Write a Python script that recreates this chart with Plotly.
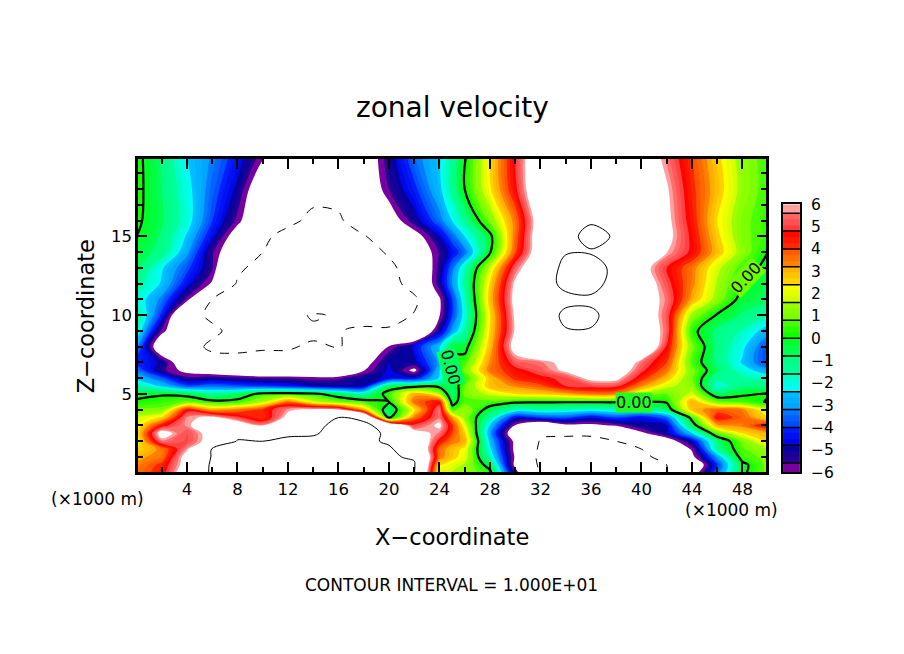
import numpy as np
import plotly.graph_objects as go

FONT = "DejaVu Sans"

# grid of the model output, x and z in units of 1000 m
x_km = [0, 2, 4, 6, 8, 10, 12, 14, 16, 18, 20, 22, 24, 25, 26, 28, 30, 32, 34, 36, 38, 40, 42, 44, 46, 48, 50]
z_km = [0, 0.5, 1, 1.5, 2, 2.5, 3, 3.5, 4, 4.5, 5, 5.5, 6, 6.5, 7, 8, 9, 10, 11, 12, 13, 14, 15, 16, 18, 20]

# zonal velocity, one list per height (x = 25 kept apart in u_x25)
u_z20 = [0.3, -0.9, -2.4, -3.3, -4.4, -6, -7, -8, -8, -7.3, -5.2, -3.5, -2.5, -0.1, 2.4, 4.8, 7.5, 9, 9, 8, 7, 5.5, 4, 2.6, 1.2, 0.5]
u_z18 = [0.3, -0.8, -2.1, -3.6, -5, -7.5, -8.5, -9, -9, -7.5, -5.6, -4.2, -2.6, 0, 2.3, 4.6, 7.5, 9, 9, 8.5, 7, 6, 4.2, 2.8, 1.3, 0.5]
u_z16 = [0.2, -0.7, -2, -4, -5.8, -8, -9.3, -10.7, -10.4, -8.5, -7, -5.2, -3.5, -1.3, 1, 3.5, 6.8, 8.5, 9.5, 8.5, 7, 6.2, 4.4, 2.4, 1, 0.4]
u_z15 = [0, -0.9, -2.5, -4.6, -7, -9.4, -11, -12, -12, -10.2, -8.5, -6.8, -4.8, -2.4, -0.3, 3.6, 7, 8.5, 11.5, 9.5, 7, 6.3, 4.6, 2.6, 1, 0.4]
u_z14 = [-0.4, -1.1, -3, -5.5, -7.5, -10, -12, -13, -13, -11.5, -9.6, -7.5, -5.5, -3.5, -0.1, 3.9, 7, 9.8, 9.6, 8.5, 7.5, 5.9, 4.6, 2.8, 1.2, 0]
u_z13 = [-0.7, -2.3, -3.8, -5.5, -9.5, -11, -12.5, -14, -14, -12.5, -10.8, -8.3, -5.3, -1.7, 1.8, 5.3, 7.5, 11, 12.5, 8.5, 6.5, 4.8, 3.5, 1.8, 0.5, -0.3]
u_z12 = [-1.3, -2.5, -4.5, -6.3, -10.3, -12, -13, -14, -14, -13, -11.5, -8.5, -5.2, -1.4, 2.5, 6.1, 8.5, 10.8, 11.5, 8.5, 7, 5.1, 3.4, 1.5, 0, -0.6]
u_z11 = [-1.8, -3.4, -5.8, -10, -11.5, -12, -12, -13, -13, -13, -12, -10.7, -6.3, -1.8, 2.8, 6.3, 8, 9.2, 9.3, 8.5, 6.8, 5.5, 3, 1.2, -0.4, -0.7]
u_z10 = [-1.2, -4.2, -9, -10.5, -11, -11, -11, -9.7, -10.3, -11, -11.5, -9.8, -6.2, -2, 2.4, 6.1, 8, 10.7, 10.7, 8.5, 7.2, 5.2, 1.3, -0.1, -0.9, -1.6]
u_z9 = [-1.7, -5.8, -8, -9.5, -10.8, -11, -10.7, -10.5, -10.1, -9.6, -9.5, -9, -5, -1.5, 2.5, 6, 8.3, 9.8, 9.8, 8.5, 7.5, 5.3, 0.3, -1, -1.7, -2.8]
u_z8 = [-3, -7.7, -9, -10.5, -11, -10.3, -10.2, -9.7, -10.1, -9.3, -6, -4.6, -2.5, -0.4, 2.8, 6.5, 8, 8.5, 8.5, 8.5, 8, 4.7, 1, -1, -2.2, -4]
u_z7 = [-4, -5, -7.5, -9, -8.5, -9, -9.3, -9.3, -9, -6.8, -4.8, -5, -3, 0.5, 3.3, 5.2, 5.5, 6.2, 7.5, 7.5, 5.4, 4, 0.6, -1, -2.5, -4]
u_z6p5 = [-3.4, -5.4, -6.5, -7, -7.5, -8, -8, -8, -8, -6.2, -4.6, -6.5, -2.5, 1, 3.5, 4.5, 5.2, 6.1, 7, 7, 5, 3.5, 1, -0.7, -2, -3]
u_z6 = [-2.6, -3.7, -5.4, -5.2, -5.4, -5.6, -5.6, -5.8, -5.7, -5, -4.7, -4.5, -2.3, 0.3, 2.8, 4.2, 4.6, 5, 6.2, 6.2, 4.3, 2.8, 0.9, -1.4, -1.5, -1.8]
u_z5p5 = [-1.5, -2.5, -3.8, -3.5, -3.8, -4, -4.3, -4.8, -5, -4.8, -0.6, -0.3, -0.3, 0.8, 2.8, 3.3, 3.8, 4.8, 5, 5, 3.3, 1.8, 1.2, -2, -1, -1]
u_z5 = [-0.2, -0.1, -0.4, -1.3, -0.8, 0.4, 0.5, 0.3, -0.6, -1.5, 0.5, 3, 1.5, 0.9, 1.8, 2.4, 2.6, 3, 3.5, 3.3, 1.6, 0.8, 1.8, -0.7, -0.2, 0.1]
u_z4p5 = [0.1, 0.4, 0.9, 0.3, 0.4, 1.6, 3.6, 1.8, 0.9, 0.5, 0, 3.6, 4.5, 0.6, 0.6, 0.2, 0.1, 0.1, 0.1, 0.1, -0.1, 0.1, 3, 0.9, 0.6, -0.1]
u_z4 = [1, 1, 4.5, 3, 3.5, 4.2, 5.7, 6.2, 6, 3, -1, 2.3, 5.5, 1.4, -0.5, -1.8, -1.6, -1.8, -2, -1.8, -1.8, -0.7, 2.8, 3.7, 3.4, 1.8]
u_z3p5 = [1.8, 2.5, 5.6, 6.2, 5, 4, 6.3, 8, 10, 9, -0.5, 3.5, 5.5, 1.2, -1.4, -4.6, -4, -3.8, -4.6, -3.9, -4.6, -3.6, 0.4, 4.5, 3.7, 2.4]
u_z3 = [2, 4.5, 5.7, 6.8, 7, 5.7, 7.5, 9, 11, 11, 8, 5, 6.1, 2, -2.5, -6.2, -8, -6.5, -6.5, -6, -5, -4.8, -0.6, 3, 3.4, 4.7]
u_z2p5 = [2.2, 6.5, 5, 6.5, 9, 9.5, 9.6, 9.7, 11, 11, 9.5, 6.5, 5.5, 2.6, -3, -7.5, -9.7, -9.5, -9.5, -9, -6.4, -5, -2.5, 0.8, 2.4, 3]
u_z2 = [2, 5.5, 5, 6.5, 10.2, 10, 10.5, 10.7, 11, 10.5, 9.7, 8, 4.5, 3, -2.6, -6.5, -10.2, -10.8, -10.8, -10, -8, -7, -4.8, -1, 1, 2.5]
u_z1p5 = [2.4, 3.4, 5.7, 10.2, 11, 11, 11, 11, 11.5, 11, 10.3, 8.5, 3.6, 2.2, -2.2, -6.5, -10.5, -11.5, -11.5, -11, -10, -7.7, -6, -1.3, 0.7, 1.5]
u_z1 = [3, 3.5, 6.5, 10.2, 12, 12, 12, 12, 12, 11.5, 10.2, 9.8, 3.5, 2, -1.7, -6.3, -10.8, -11.5, -11.5, -11.5, -10.7, -9, -6.5, -3, 0.5, 1]
u_z0p5 = [3.3, 4.2, 6.5, 10.5, 12, 12, 12, 12, 12, 12, 11, 10.2, 2.5, 1.5, -0.5, -6.5, -10.5, -11.5, -11.5, -11.5, -11, -10, -8, -4, -0.3, 1]
u_z0 = [3.5, 4.4, 7, 10.5, 12, 12, 12, 12, 12, 12, 11, 10.1, 1.8, 1.3, 0.3, -5.5, -10.2, -11, -11, -11, -11, -10, -7, -3.5, -0.2, 1]
u_x25 = [1.5, 2, 2.7, 2.8, 3.5, 4, 4.2, 3.2, 0.5, -0.4, -1, -0.8, -0.3, 0, 0.3, -0.3, -3, -4, -4, -3.2, -3.5, -4.5, -3.6, -2.4, -1.3, -1.3]

# colour table, white outside +-6
cbar_vals = [-6, -5.6, -5.6, -4.8, -4.8, -4, -4, -3.2, -3.2, -2.4, -2.4, -1.6, -1.6, -0.8, -0.8, 0,
             0, 0.8, 0.8, 1.6, 1.6, 2.4, 2.4, 3.2, 3.2, 4, 4, 4.8, 4.8, 5.6, 5.6, 6]
cbar_colors = ["#7800a0", "#7800a0", "#300090", "#0000a0", "#0000e0", "#0020ff", "#0040ff", "#0080ff",
               "#00a0ff", "#00c0ff", "#00ffff", "#00ffc0", "#00ffa0", "#00ff80", "#00ff60", "#00ff20",
               "#00ff00", "#50ff00", "#70ff00", "#a0ff00", "#c8ff00", "#ffff00", "#ffdd00", "#ffaa00",
               "#ff9000", "#ff5000", "#ff3000", "#ff0000", "#ff3030", "#ff7070", "#ffa0a0", "#ffa0a0"]
cbar_edges = [-6, -5.6, -4.8, -4, -3.2, -2.4, -1.6, -0.8, 0, 0.8, 1.6, 2.4, 3.2, 4, 4.8, 5.6, 6]
cbar_ticks = [-6, -5, -4, -3, -2, -1, 0, 1, 2, 3, 4, 5, 6]

x_ticks = list(range(4, 49, 4))
x_minor = list(range(2, 50, 4))
z_ticks = [5, 10, 15]
z_minor = [v for v in range(1, 20) if v % 5]

# labels on the zero line; box takes the local colour so the line looks broken there
label_x = [39.4, 48.3, 24.9]
label_z = [4.45, 12.4, 6.7]
label_angle = [0, -47, 75]
label_bg = ["#20ff20", "#70ff00", "#00ff60"]

u = np.array([u_z0, u_z0p5, u_z1, u_z1p5, u_z2, u_z2p5, u_z3, u_z3p5, u_z4, u_z4p5, u_z5, u_z5p5, u_z6,
              u_z6p5, u_z7, u_z8, u_z9, u_z10, u_z11, u_z12, u_z13, u_z14, u_z15, u_z16, u_z18, u_z20])
u = np.insert(u, x_km.index(25), u_x25, axis=1)

ZLIM = 15.0
W, H = 904, 654


def pos(v):
    return (v + ZLIM) / (2 * ZLIM)


# page pixel to paper fraction, calibrated on the first render
def px(x):
    return ((x - 5.1) / 1.0063) / W


def py(y):
    return 1 - ((y - 12.5) / 0.984) / H


colorscale = [[0, "white"], [pos(-6.0) - 1e-6, "white"]]
for v, c in zip(cbar_vals, cbar_colors):
    colorscale.append([pos(v), c])
colorscale += [[pos(6.0) + 1e-6, "white"], [1, "white"]]

STEP = 0.8 / 3
fig = go.Figure()
fig.add_trace(go.Contour(x=x_km, y=z_km, z=u, colorscale=colorscale, zmin=-ZLIM, zmax=ZLIM,
                         autocontour=False, showscale=False, hoverinfo="skip",
                         contours=dict(start=-5.6 - 36 * STEP, end=5.6 + 36 * STEP, size=STEP,
                                       coloring="fill", showlines=False),
                         line=dict(width=0)))

# the three contour lines, negative one dashed
for level, width, dash in [(-10, 1, "dash"), (0, 2.2, "solid"), (10, 1, "solid")]:
    fig.add_trace(go.Contour(x=x_km, y=z_km, z=u, showscale=False, hoverinfo="skip", autocontour=False,
                             contours=dict(start=level, end=level, size=1, coloring="lines"),
                             colorscale=[[0, "black"], [1, "black"]],
                             line=dict(color="black", width=width, dash=dash)))

# colour bar as its own little axes
edges = [-6.0]
for lo, hi in zip(cbar_edges[1:-2], cbar_edges[2:-1]):
    edges += list(np.linspace(lo, hi, 4)[:-1])
edges += [5.6, 6.0]
edges = np.array(edges)
centers = (edges[:-1] + edges[1:]) / 2
fig.add_trace(go.Heatmap(x=[0, 1], y=edges, z=[[c] for c in centers], colorscale=colorscale,
                         zmin=-ZLIM, zmax=ZLIM, showscale=False, hoverinfo="skip",
                         xaxis="x2", yaxis="y2"))
sep_x, sep_y = [], []
for e in cbar_edges[1:-1]:
    sep_x += [0, 1, None]
    sep_y += [e, e, None]
fig.add_trace(go.Scatter(x=sep_x, y=sep_y, mode="lines", line=dict(color="black", width=1.5),
                         hoverinfo="skip", xaxis="x2", yaxis="y2"))

axis_common = dict(showgrid=False, zeroline=False, showline=True, linecolor="black", linewidth=2.5,
                   mirror="allticks", ticks="inside", tickcolor="black", tickwidth=2,
                   tickfont=dict(family=FONT, size=16.5, color="black"))
fig.update_layout(
    width=W, height=H, margin=dict(l=0, r=0, t=0, b=0), showlegend=False,
    paper_bgcolor="white", plot_bgcolor="white",
    xaxis=dict(domain=[px(136), px(768)], range=[0.125, 49.875], tickmode="array", tickvals=x_ticks,
               ticklen=10, minor=dict(tickmode="array", tickvals=x_minor, ticklen=5, ticks="inside",
                                      tickcolor="black", tickwidth=1.5), **axis_common),
    yaxis=dict(domain=[py(473), py(156)], range=[0.04, 19.93], tickmode="array", tickvals=z_ticks,
               ticklen=9, minor=dict(tickmode="array", tickvals=z_minor, ticklen=5, ticks="inside",
                                     tickcolor="black", tickwidth=1.5), **axis_common),
    xaxis2=dict(domain=[px(785), px(802)], range=[0, 1], anchor="y2", showticklabels=False, ticks="",
                showgrid=False, zeroline=False, showline=True, linecolor="black", linewidth=2, mirror=True),
    yaxis2=dict(domain=[py(473), py(202)], range=[-6, 6], anchor="x2", side="right",
                tickmode="array", tickvals=cbar_ticks,
                ticktext=[str(t).replace("-", "\u2212") for t in cbar_ticks],
                ticks="", showgrid=False, zeroline=False, showline=True, linecolor="black", linewidth=2,
                mirror=True, ticklabelstandoff=6, tickfont=dict(family=FONT, size=15.5, color="black")),
)


def text_at(s, x, y, size, angle=0):
    fig.add_annotation(text=s, x=px(x), y=py(y), xref="paper", yref="paper", showarrow=False,
                       textangle=angle, xanchor="center", yanchor="middle",
                       font=dict(family=FONT, size=size, color="black"))


text_at("zonal velocity", 452, 104, 28)
text_at("X\u2212coordinate", 452, 539, 22.5)
text_at("Z\u2212coordinate", 84, 315, 22.5, angle=-90)
text_at("CONTOUR INTERVAL = 1.000E+01", 451, 587, 17)
text_at("(\u00d71000 m)", 95, 500, 17)
text_at("(\u00d71000 m)", 733, 511, 17)

for lx, lz, la, bg in zip(label_x, label_z, label_angle, label_bg):
    fig.add_annotation(text="0.00", x=lx, y=lz, xref="x", yref="y", showarrow=False, textangle=la,
                       xanchor="center", yanchor="middle", bgcolor=bg, borderpad=0,
                       font=dict(family=FONT, size=16, color="black"))

fig.write_html("out.html")
